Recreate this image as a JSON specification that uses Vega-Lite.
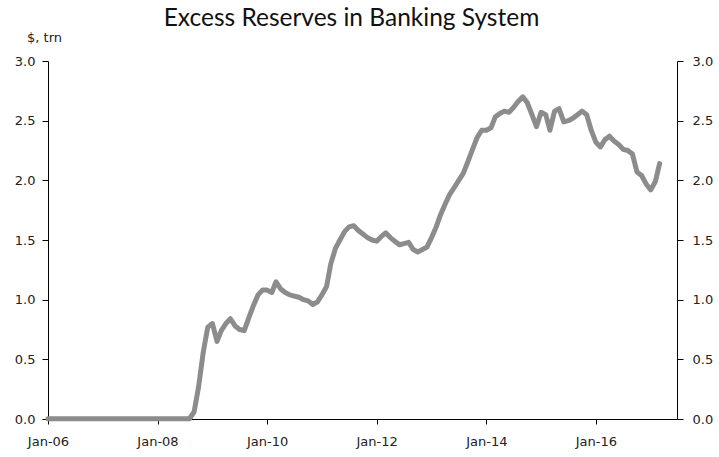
{
  "$schema": "https://vega.github.io/schema/vega-lite/v6.json",
  "width": 629,
  "height": 358,
  "autosize": "none",
  "padding": {"left": 48, "top": 61, "right": 42, "bottom": 38},
  "background": "white",
  "config": {"view": {"stroke": null}, "font": "DejaVu Sans"},
  "title": {"text": "Excess Reserves in Banking System", "font": "Lato", "fontSize": 24.5, "fontWeight": "normal", "color": "#111", "anchor": "middle", "dx": -11, "offset": 0},
  "data": {"values": [
    {"date": "2006-01-01", "value": 0.002}, {"date": "2006-02-01", "value": 0.002}, {"date": "2006-03-01", "value": 0.002},
    {"date": "2006-04-01", "value": 0.002}, {"date": "2006-05-01", "value": 0.002}, {"date": "2006-06-01", "value": 0.002},
    {"date": "2006-07-01", "value": 0.002}, {"date": "2006-08-01", "value": 0.002}, {"date": "2006-09-01", "value": 0.002},
    {"date": "2006-10-01", "value": 0.002}, {"date": "2006-11-01", "value": 0.002}, {"date": "2006-12-01", "value": 0.002},
    {"date": "2007-01-01", "value": 0.002}, {"date": "2007-02-01", "value": 0.002}, {"date": "2007-03-01", "value": 0.002},
    {"date": "2007-04-01", "value": 0.002}, {"date": "2007-05-01", "value": 0.002}, {"date": "2007-06-01", "value": 0.002},
    {"date": "2007-07-01", "value": 0.002}, {"date": "2007-08-01", "value": 0.002}, {"date": "2007-09-01", "value": 0.002},
    {"date": "2007-10-01", "value": 0.002}, {"date": "2007-11-01", "value": 0.002}, {"date": "2007-12-01", "value": 0.002},
    {"date": "2008-01-01", "value": 0.002}, {"date": "2008-02-01", "value": 0.002}, {"date": "2008-03-01", "value": 0.002},
    {"date": "2008-04-01", "value": 0.002}, {"date": "2008-05-01", "value": 0.002}, {"date": "2008-06-01", "value": 0.002},
    {"date": "2008-07-01", "value": 0.002}, {"date": "2008-08-01", "value": 0.002}, {"date": "2008-09-01", "value": 0.06},
    {"date": "2008-10-01", "value": 0.27}, {"date": "2008-11-01", "value": 0.56}, {"date": "2008-12-01", "value": 0.77},
    {"date": "2009-01-01", "value": 0.80}, {"date": "2009-02-01", "value": 0.65}, {"date": "2009-03-01", "value": 0.74},
    {"date": "2009-04-01", "value": 0.80}, {"date": "2009-05-01", "value": 0.84}, {"date": "2009-06-01", "value": 0.78},
    {"date": "2009-07-01", "value": 0.75}, {"date": "2009-08-01", "value": 0.74}, {"date": "2009-09-01", "value": 0.85},
    {"date": "2009-10-01", "value": 0.95}, {"date": "2009-11-01", "value": 1.04}, {"date": "2009-12-01", "value": 1.08},
    {"date": "2010-01-01", "value": 1.08}, {"date": "2010-02-01", "value": 1.06}, {"date": "2010-03-01", "value": 1.15},
    {"date": "2010-04-01", "value": 1.09}, {"date": "2010-05-01", "value": 1.06}, {"date": "2010-06-01", "value": 1.04},
    {"date": "2010-07-01", "value": 1.03}, {"date": "2010-08-01", "value": 1.02}, {"date": "2010-09-01", "value": 1.00},
    {"date": "2010-10-01", "value": 0.99}, {"date": "2010-11-01", "value": 0.96}, {"date": "2010-12-01", "value": 0.98},
    {"date": "2011-01-01", "value": 1.04}, {"date": "2011-02-01", "value": 1.11}, {"date": "2011-03-01", "value": 1.30},
    {"date": "2011-04-01", "value": 1.43}, {"date": "2011-05-01", "value": 1.50}, {"date": "2011-06-01", "value": 1.57},
    {"date": "2011-07-01", "value": 1.61}, {"date": "2011-08-01", "value": 1.62}, {"date": "2011-09-01", "value": 1.58},
    {"date": "2011-10-01", "value": 1.55}, {"date": "2011-11-01", "value": 1.52}, {"date": "2011-12-01", "value": 1.50},
    {"date": "2012-01-01", "value": 1.49}, {"date": "2012-02-01", "value": 1.53}, {"date": "2012-03-01", "value": 1.56},
    {"date": "2012-04-01", "value": 1.52}, {"date": "2012-05-01", "value": 1.49}, {"date": "2012-06-01", "value": 1.46},
    {"date": "2012-07-01", "value": 1.47}, {"date": "2012-08-01", "value": 1.48}, {"date": "2012-09-01", "value": 1.42},
    {"date": "2012-10-01", "value": 1.40}, {"date": "2012-11-01", "value": 1.42}, {"date": "2012-12-01", "value": 1.44},
    {"date": "2013-01-01", "value": 1.52}, {"date": "2013-02-01", "value": 1.61}, {"date": "2013-03-01", "value": 1.71},
    {"date": "2013-04-01", "value": 1.80}, {"date": "2013-05-01", "value": 1.88}, {"date": "2013-06-01", "value": 1.94},
    {"date": "2013-07-01", "value": 2.00}, {"date": "2013-08-01", "value": 2.06}, {"date": "2013-09-01", "value": 2.16},
    {"date": "2013-10-01", "value": 2.26}, {"date": "2013-11-01", "value": 2.36}, {"date": "2013-12-01", "value": 2.42},
    {"date": "2014-01-01", "value": 2.42}, {"date": "2014-02-01", "value": 2.44}, {"date": "2014-03-01", "value": 2.53},
    {"date": "2014-04-01", "value": 2.56}, {"date": "2014-05-01", "value": 2.58}, {"date": "2014-06-01", "value": 2.57},
    {"date": "2014-07-01", "value": 2.61}, {"date": "2014-08-01", "value": 2.66}, {"date": "2014-09-01", "value": 2.70},
    {"date": "2014-10-01", "value": 2.65}, {"date": "2014-11-01", "value": 2.55}, {"date": "2014-12-01", "value": 2.45},
    {"date": "2015-01-01", "value": 2.57}, {"date": "2015-02-01", "value": 2.55}, {"date": "2015-03-01", "value": 2.42},
    {"date": "2015-04-01", "value": 2.58}, {"date": "2015-05-01", "value": 2.60}, {"date": "2015-06-01", "value": 2.49},
    {"date": "2015-07-01", "value": 2.50}, {"date": "2015-08-01", "value": 2.52}, {"date": "2015-09-01", "value": 2.55},
    {"date": "2015-10-01", "value": 2.58}, {"date": "2015-11-01", "value": 2.55}, {"date": "2015-12-01", "value": 2.42},
    {"date": "2016-01-01", "value": 2.32}, {"date": "2016-02-01", "value": 2.28}, {"date": "2016-03-01", "value": 2.34},
    {"date": "2016-04-01", "value": 2.37}, {"date": "2016-05-01", "value": 2.33}, {"date": "2016-06-01", "value": 2.30},
    {"date": "2016-07-01", "value": 2.26}, {"date": "2016-08-01", "value": 2.25}, {"date": "2016-09-01", "value": 2.22},
    {"date": "2016-10-01", "value": 2.07}, {"date": "2016-11-01", "value": 2.04}, {"date": "2016-12-01", "value": 1.97},
    {"date": "2017-01-01", "value": 1.92}, {"date": "2017-02-01", "value": 1.99}, {"date": "2017-03-01", "value": 2.14}
  ]},
  "layer": [
    {
      "mark": {"type": "line", "color": "#8c8c8c", "strokeWidth": 5, "strokeJoin": "round", "strokeCap": "round"},
      "encoding": {
        "x": {
          "field": "date", "type": "temporal",
          "scale": {"type": "utc", "domain": [{"year": 2006, "month": 1, "date": 1, "utc": true}, {"year": 2017, "month": 6, "date": 25, "utc": true}]},
          "axis": {
            "title": null, "grid": false,
            "values": [
              {"year": 2006, "month": 1, "date": 1, "utc": true},
              {"year": 2008, "month": 1, "date": 1, "utc": true},
              {"year": 2010, "month": 1, "date": 1, "utc": true},
              {"year": 2012, "month": 1, "date": 1, "utc": true},
              {"year": 2014, "month": 1, "date": 1, "utc": true},
              {"year": 2016, "month": 1, "date": 1, "utc": true}
            ],
            "labelExpr": "utcFormat(datum.value, '%b-%y')",
            "domainColor": "#000", "domainWidth": 1, "tickColor": "#000", "tickSize": 5,
            "labelFont": "DejaVu Sans", "labelFontSize": 13, "labelColor": "#222", "labelPadding": 11, "labelFlush": false
          }
        },
        "y": {
          "field": "value", "type": "quantitative",
          "scale": {"domain": [0, 3], "nice": false},
          "axis": {
            "orient": "left", "values": [0, 0.5, 1, 1.5, 2, 2.5, 3], "format": ".1f", "grid": false,
            "domainColor": "#000", "tickColor": "#000", "tickSize": 6, "labelPadding": 7,
            "labelFont": "DejaVu Sans", "labelFontSize": 13, "labelColor": "#222",
            "title": "$, trn", "titleAngle": 0, "titleX": -4, "titleY": -20, "titleAlign": "center", "titleBaseline": "alphabetic",
            "titleFont": "DejaVu Sans", "titleFontSize": 13, "titleFontWeight": "normal", "titleColor": "#222"
          }
        }
      }
    },
    {
      "mark": {"type": "line", "opacity": 0},
      "encoding": {
        "x": {
          "field": "date", "type": "temporal",
          "axis": {
            "title": null, "grid": false,
            "values": [
              {"year": 2006, "month": 1, "date": 1, "utc": true},
              {"year": 2008, "month": 1, "date": 1, "utc": true},
              {"year": 2010, "month": 1, "date": 1, "utc": true},
              {"year": 2012, "month": 1, "date": 1, "utc": true},
              {"year": 2014, "month": 1, "date": 1, "utc": true},
              {"year": 2016, "month": 1, "date": 1, "utc": true}
            ],
            "labelExpr": "utcFormat(datum.value, '%b-%y')",
            "domainColor": "#000", "domainWidth": 1, "tickColor": "#000", "tickSize": 5,
            "labelFont": "DejaVu Sans", "labelFontSize": 13, "labelColor": "#222", "labelPadding": 11, "labelFlush": false
          }
        },
        "y": {
          "field": "value", "type": "quantitative",
          "scale": {"domain": [0, 3], "nice": false},
          "axis": {
            "orient": "right", "values": [0, 0.5, 1, 1.5, 2, 2.5, 3], "format": ".1f", "grid": false, "title": null,
            "domainColor": "#000", "tickColor": "#000", "tickSize": 6, "labelPadding": 9,
            "labelFont": "DejaVu Sans", "labelFontSize": 13, "labelColor": "#222"
          }
        }
      }
    }
  ],
  "resolve": {"scale": {"y": "independent"}}
}
